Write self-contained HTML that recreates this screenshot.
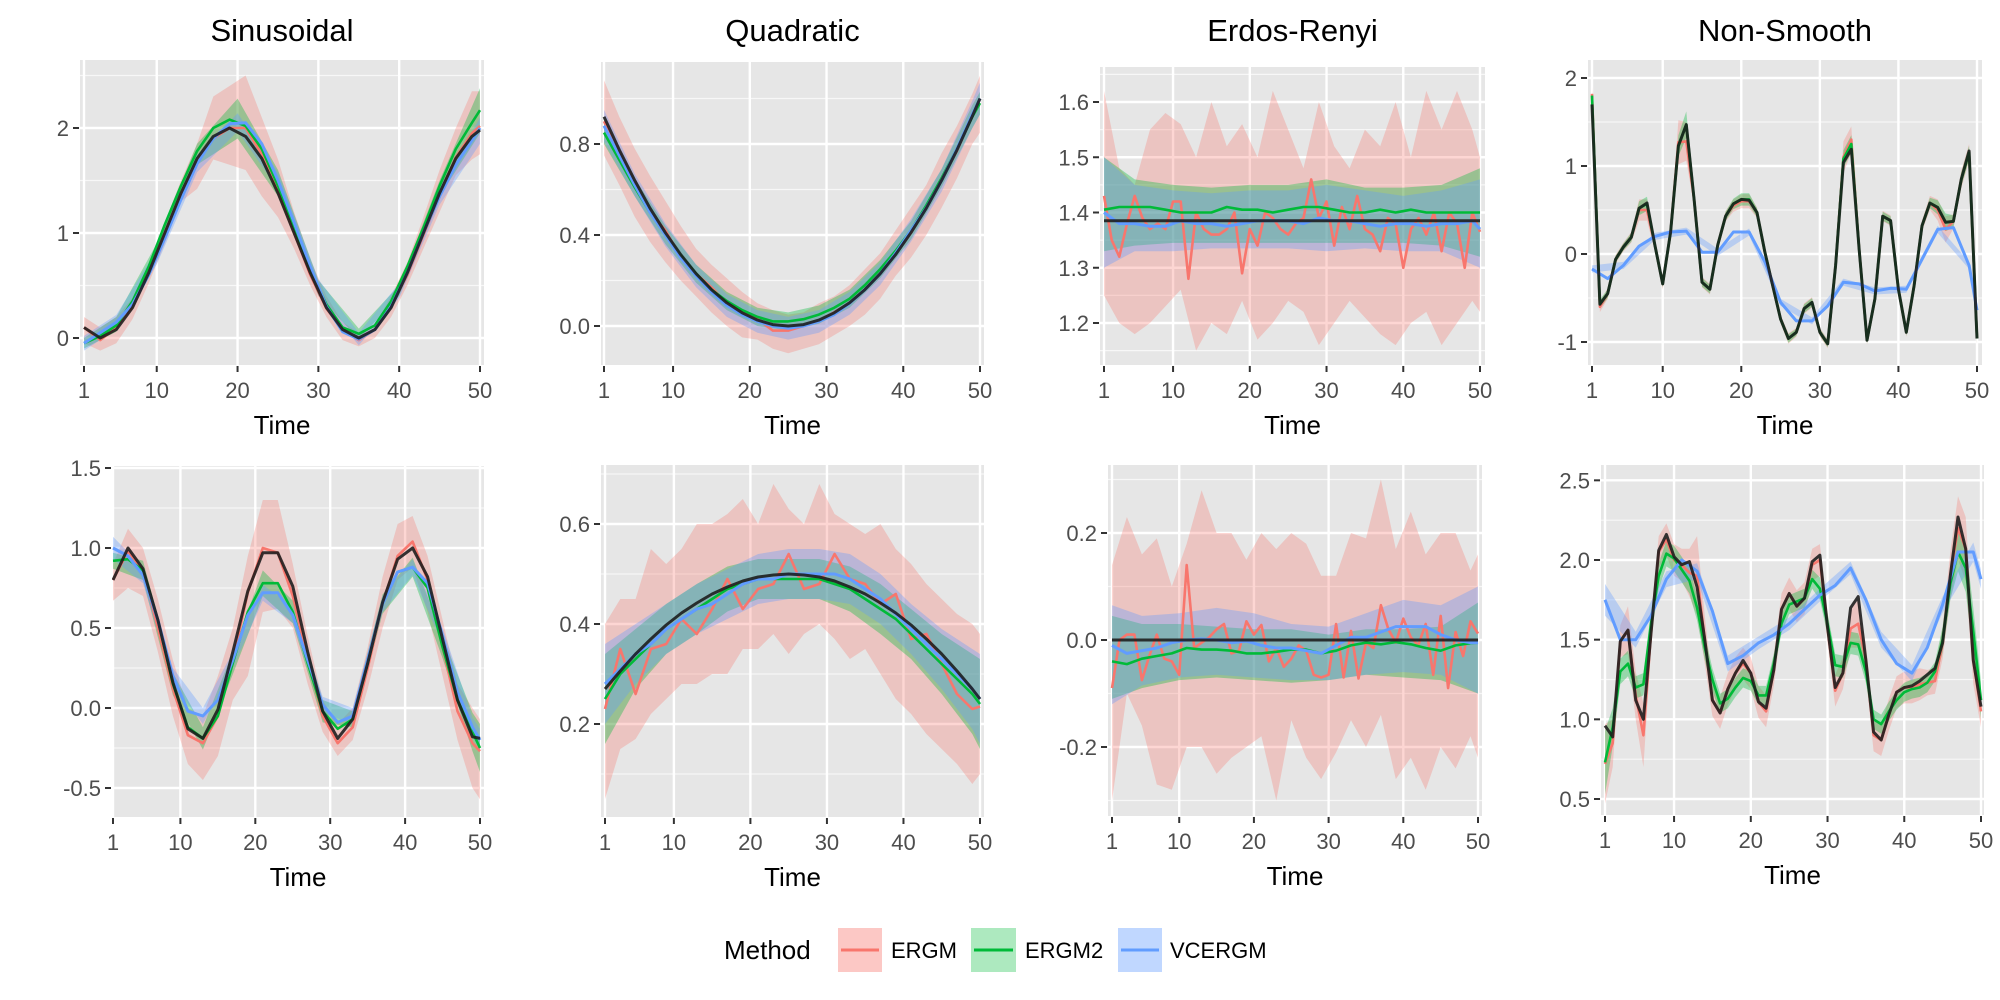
<!DOCTYPE html>
<html><head><meta charset="utf-8"><style>
html,body{margin:0;padding:0;background:#fff;}
svg{display:block;font-family:"Liberation Sans",Arial,sans-serif;}
</style></head><body>
<svg id="chart" width="2000" height="1000" viewBox="0 0 2000 1000" xmlns="http://www.w3.org/2000/svg">
<defs id="defs"></defs>
<g id="legend">
  <text x="724" y="959" font-size="26" fill="#000">Method</text>
  <g>
    <rect x="838" y="928" width="44" height="44" fill="#F8766D" fill-opacity="0.4"/>
    <line x1="841" y1="950" x2="879" y2="950" stroke="#F8766D" stroke-width="3"/>
    <text x="891" y="958" font-size="22">ERGM</text>
  </g>
  <g>
    <rect x="971" y="928" width="45" height="44" fill="#00BA38" fill-opacity="0.32"/>
    <line x1="974" y1="950" x2="1013" y2="950" stroke="#00BA38" stroke-width="3"/>
    <text x="1025" y="958" font-size="22">ERGM2</text>
  </g>
  <g>
    <rect x="1118" y="928" width="44" height="44" fill="#619CFF" fill-opacity="0.4"/>
    <line x1="1121" y1="950" x2="1159" y2="950" stroke="#619CFF" stroke-width="3"/>
    <text x="1170" y="958" font-size="22">VCERGM</text>
  </g>
</g>
</svg>
<script>
// ---------- time grids ----------
const T50 = Array.from({length:50},(_,i)=>i+1);
const T26 = [1,3,5,7,9,11,13,15,17,19,21,23,25,27,29,31,33,35,37,39,41,43,45,47,49,50];
const TB11 = [1,5,10,15,20,25,30,35,40,45,50];
const TB14 = [1,5,9,13,17,21,25,29,33,37,41,45,49,50];
const TEND = [1,50];
const xTicks = [1,10,20,30,40,50];

// ---------- Sinusoidal ----------
const sinTruth = [0.1,0,0.08,0.29,0.62,1.0,1.38,1.71,1.92,2.0,1.92,1.71,1.38,1.0,0.62,0.29,0.08,0,0.08,0.29,0.62,1.0,1.38,1.71,1.92,1.98];
const sinErgm = [0.1,-0.02,0.1,0.3,0.62,1.0,1.35,1.68,1.9,2.0,2.0,1.75,1.4,1.0,0.6,0.28,0.08,-0.02,0.08,0.3,0.6,0.98,1.35,1.72,1.95,2.02];
const sinErgmLo = [-0.05,-0.12,-0.05,0.18,0.52,0.9,1.3,1.42,1.7,1.65,1.6,1.35,1.15,0.85,0.5,0.2,-0.02,-0.08,0,0.2,0.5,0.85,1.2,1.55,1.7,1.75];
const sinErgmHi = [0.2,0.1,0.2,0.38,0.7,1.1,1.5,1.85,2.3,2.4,2.5,2.1,1.7,1.2,0.75,0.4,0.15,0.05,0.12,0.4,0.72,1.15,1.6,2.0,2.35,2.35];
const sinErgm2 = [-0.05,0.02,0.12,0.35,0.68,1.08,1.45,1.78,2.0,2.08,2.02,1.8,1.45,1.05,0.65,0.32,0.1,0.04,0.12,0.35,0.68,1.05,1.45,1.8,2.05,2.17];
const sinErgm2Lo = [-0.1,0.06,0.75,1.65,1.9,1.35,0.4,-0.01,0.4,1.35,1.95];
const sinErgm2Hi = [0,0.2,0.9,1.85,2.28,1.6,0.55,0.09,0.5,1.5,2.38];
const sinVc = [-0.05,0.05,0.15,0.32,0.6,0.95,1.32,1.66,1.9,2.04,2.05,1.85,1.5,1.1,0.68,0.3,0.06,-0.01,0.08,0.3,0.62,1.0,1.35,1.65,1.88,2.0];
const sinVcLo = [-0.12,0.08,0.7,1.58,1.97,1.42,0.4,-0.07,0.38,1.27,1.85];
const sinVcHi = [0.02,0.22,0.84,1.74,2.14,1.58,0.56,0.05,0.52,1.43,2.1];

// ---------- Quadratic ----------
const quadTruth = [0.92,0.774,0.64,0.518,0.41,0.314,0.23,0.16,0.102,0.058,0.026,0.006,0,0.006,0.026,0.058,0.102,0.16,0.23,0.314,0.41,0.518,0.64,0.774,0.922,1.0];
const quadErgm = [0.9,0.76,0.63,0.5,0.42,0.3,0.23,0.17,0.1,0.06,0.03,-0.02,-0.02,0,0.02,0.06,0.1,0.16,0.23,0.32,0.41,0.52,0.65,0.77,0.93,1.0];
const quadErgmLo = [0.75,0.62,0.48,0.37,0.28,0.2,0.13,0.06,0,-0.05,-0.06,-0.1,-0.12,-0.1,-0.08,-0.04,0,0.05,0.12,0.22,0.3,0.4,0.52,0.65,0.8,0.85];
const quadErgmHi = [1.08,0.92,0.78,0.66,0.55,0.44,0.34,0.27,0.21,0.15,0.1,0.07,0.05,0.06,0.1,0.13,0.18,0.25,0.32,0.42,0.52,0.62,0.76,0.88,1.02,1.1];
const quadErgm2 = [0.85,0.73,0.61,0.5,0.4,0.31,0.23,0.16,0.11,0.07,0.04,0.02,0.02,0.03,0.05,0.08,0.12,0.18,0.25,0.33,0.42,0.53,0.65,0.78,0.92,0.98];
const quadErgm2W = [0.05,0.04,0.04,0.04,0.04,0.04,0.04,0.04,0.04,0.04,0.04,0.04,0.05,0.05];
const quadVc = [0.88,0.75,0.62,0.5,0.4,0.3,0.22,0.15,0.09,0.05,0.02,0,-0.01,0,0.02,0.05,0.1,0.16,0.23,0.32,0.42,0.52,0.64,0.78,0.93,1.0];
const quadVcW = [0.07,0.05,0.05,0.05,0.05,0.05,0.05,0.05,0.05,0.05,0.05,0.05,0.06,0.07];

// ---------- Erdos-Renyi ----------
const erTruth = [1.385,1.385];
const erErgm = [1.43,1.35,1.32,1.38,1.43,1.39,1.37,1.38,1.37,1.42,1.42,1.28,1.4,1.37,1.36,1.36,1.37,1.4,1.29,1.37,1.34,1.4,1.39,1.37,1.36,1.38,1.39,1.46,1.39,1.42,1.34,1.41,1.37,1.43,1.37,1.36,1.33,1.39,1.38,1.3,1.37,1.39,1.36,1.4,1.33,1.4,1.38,1.3,1.4,1.365];
const erErgmLo = [1.25,1.2,1.18,1.2,1.23,1.26,1.15,1.2,1.18,1.24,1.17,1.2,1.24,1.22,1.16,1.2,1.24,1.21,1.18,1.16,1.2,1.22,1.16,1.2,1.24,1.22];
const erErgmHi = [1.62,1.48,1.45,1.55,1.58,1.56,1.5,1.6,1.52,1.56,1.5,1.62,1.55,1.48,1.6,1.52,1.48,1.55,1.52,1.6,1.5,1.62,1.55,1.62,1.55,1.5];
const erErgm2 = [1.405,1.41,1.41,1.41,1.405,1.4,1.4,1.4,1.41,1.405,1.405,1.4,1.405,1.41,1.41,1.405,1.4,1.4,1.405,1.4,1.405,1.4,1.4,1.4,1.4,1.4];
const erErgm2Lo = [1.33,1.34,1.345,1.345,1.345,1.345,1.345,1.345,1.345,1.34,1.32];
const erErgm2Hi = [1.5,1.46,1.45,1.445,1.45,1.45,1.46,1.445,1.445,1.45,1.48];
const erVc = [1.4,1.38,1.38,1.375,1.375,1.385,1.38,1.38,1.375,1.38,1.385,1.385,1.385,1.38,1.39,1.385,1.385,1.38,1.375,1.38,1.38,1.375,1.38,1.38,1.385,1.37];
const erVcLo = [1.3,1.33,1.33,1.335,1.335,1.335,1.33,1.335,1.33,1.33,1.3];
const erVcHi = [1.5,1.45,1.44,1.435,1.44,1.44,1.45,1.44,1.43,1.44,1.46];

// ---------- Non-Smooth ----------
const nsTruth = [1.7,-0.57,-0.45,-0.06,0.08,0.19,0.52,0.58,0.1,-0.34,0.25,1.23,1.47,0.62,-0.32,-0.4,0.1,0.43,0.57,0.62,0.61,0.47,0.02,-0.36,-0.74,-0.96,-0.89,-0.62,-0.55,-0.89,-1.02,-0.13,1.04,1.19,0.06,-0.98,-0.51,0.43,0.38,-0.4,-0.89,-0.36,0.32,0.58,0.53,0.36,0.37,0.85,1.17,-0.96];
const nsErgm = [1.82,-0.6,-0.45,-0.06,0.08,0.19,0.5,0.5,0.1,-0.34,0.25,1.27,1.28,0.62,-0.32,-0.4,0.1,0.43,0.55,0.6,0.6,0.47,0.02,-0.36,-0.74,-0.96,-0.89,-0.62,-0.55,-0.89,-1.02,-0.13,1.1,1.3,0.06,-0.98,-0.51,0.43,0.38,-0.4,-0.89,-0.36,0.32,0.58,0.5,0.28,0.37,0.85,1.15,-0.96];
const nsErgmW = [0.08,0.06,0.06,0.05,0.05,0.06,0.12,0.12,0.07,0.06,0.08,0.25,0.22,0.07,0.06,0.06,0.06,0.06,0.07,0.08,0.08,0.06,0.05,0.05,0.05,0.06,0.05,0.06,0.06,0.05,0.05,0.06,0.18,0.15,0.06,0.05,0.05,0.06,0.06,0.05,0.05,0.05,0.06,0.08,0.12,0.15,0.08,0.1,0.1,0.06];
const nsErgm2 = [1.8,-0.57,-0.45,-0.06,0.08,0.19,0.52,0.57,0.1,-0.34,0.25,1.23,1.47,0.62,-0.32,-0.4,0.1,0.43,0.57,0.62,0.62,0.47,0.02,-0.36,-0.74,-0.96,-0.89,-0.62,-0.55,-0.89,-1.02,-0.13,1.08,1.25,0.06,-0.98,-0.51,0.43,0.38,-0.4,-0.89,-0.36,0.32,0.58,0.53,0.36,0.37,0.85,1.15,-0.96];
const nsErgm2W = [0.05,0.05,0.05,0.04,0.04,0.05,0.08,0.08,0.05,0.04,0.06,0.12,0.15,0.05,0.05,0.05,0.04,0.05,0.06,0.07,0.07,0.05,0.04,0.04,0.04,0.05,0.04,0.05,0.05,0.04,0.04,0.05,0.1,0.1,0.05,0.04,0.04,0.05,0.05,0.04,0.04,0.04,0.05,0.06,0.08,0.1,0.07,0.08,0.08,0.05];
const nsVc = [-0.17,-0.28,-0.13,0.09,0.2,0.25,0.26,0.02,0.02,0.25,0.25,-0.09,-0.55,-0.76,-0.76,-0.59,-0.32,-0.34,-0.42,-0.39,-0.4,-0.06,0.28,0.3,-0.13,-0.64];
const nsVcW = [0.04,0.04,0.04,0.04,0.04,0.04,0.04,0.04,0.04,0.04,0.04,0.04,0.04,0.04];

// ---------- Row 2: Sinusoidal ----------
const sin2Truth = [0.8,1.0,0.87,0.55,0.16,-0.13,-0.19,-0.01,0.35,0.73,0.97,0.97,0.76,0.35,-0.02,-0.19,-0.07,0.28,0.66,0.93,1.0,0.82,0.43,0.05,-0.18,-0.19];
const sin2Ergm = [0.8,0.98,0.86,0.5,0.12,-0.17,-0.22,-0.05,0.3,0.72,1.0,0.97,0.7,0.3,-0.05,-0.22,-0.12,0.25,0.65,0.95,1.04,0.8,0.38,-0.02,-0.22,-0.27];
const sin2ErgmLo = [0.67,0.75,0.7,0.35,-0.05,-0.35,-0.45,-0.3,0.05,0.2,0.6,0.62,0.5,0.15,-0.15,-0.3,-0.2,0.12,0.5,0.8,0.88,0.6,0.2,-0.2,-0.5,-0.57];
const sin2ErgmHi = [0.9,1.12,1.0,0.68,0.3,0.0,-0.05,0.2,0.5,0.95,1.3,1.3,0.9,0.45,0.05,-0.1,0.0,0.38,0.82,1.15,1.2,0.95,0.55,0.15,0.0,-0.07];
const sin2Ergm2 = [0.92,0.93,0.86,0.55,0.15,-0.12,-0.19,-0.05,0.28,0.6,0.78,0.78,0.6,0.28,-0.02,-0.13,-0.07,0.28,0.65,0.85,0.88,0.75,0.38,0.05,-0.15,-0.25];
const sin2Ergm2W = [0.05,0.06,0.07,0.07,0.07,0.08,0.07,0.07,0.05,0.06,0.06,0.07,0.12,0.15];
const sin2Vc = [1.0,0.95,0.83,0.55,0.2,-0.02,-0.05,0.05,0.3,0.58,0.72,0.72,0.58,0.3,0.02,-0.09,-0.05,0.3,0.65,0.85,0.88,0.78,0.45,0.1,-0.12,-0.2];
const sin2VcW = [0.07,0.05,0.05,0.05,0.05,0.05,0.05,0.05,0.05,0.05,0.05,0.05,0.06,0.07];

// ---------- Row 2: Quadratic ----------
const quad2Truth = [0.27,0.306,0.34,0.37,0.398,0.422,0.442,0.46,0.474,0.486,0.494,0.498,0.5,0.498,0.494,0.486,0.474,0.46,0.442,0.422,0.398,0.37,0.34,0.306,0.27,0.25];
const quad2Ergm = [0.23,0.35,0.26,0.35,0.36,0.41,0.38,0.43,0.49,0.43,0.47,0.48,0.54,0.47,0.48,0.54,0.49,0.48,0.44,0.46,0.37,0.38,0.32,0.26,0.23,0.235];
const quad2ErgmLo = [0.05,0.15,0.17,0.22,0.25,0.28,0.28,0.3,0.3,0.35,0.35,0.38,0.34,0.38,0.4,0.37,0.33,0.35,0.3,0.25,0.22,0.18,0.15,0.12,0.08,0.1];
const quad2ErgmHi = [0.4,0.45,0.45,0.55,0.52,0.55,0.6,0.6,0.62,0.65,0.6,0.68,0.63,0.6,0.68,0.62,0.6,0.58,0.6,0.55,0.52,0.48,0.45,0.42,0.4,0.38];
const quad2Ergm2 = [0.25,0.3,0.33,0.36,0.39,0.41,0.43,0.45,0.47,0.48,0.49,0.49,0.49,0.49,0.49,0.48,0.47,0.45,0.43,0.41,0.38,0.35,0.32,0.29,0.26,0.24];
const quad2Ergm2W = [0.09,0.06,0.05,0.05,0.045,0.04,0.04,0.04,0.045,0.05,0.05,0.06,0.08,0.09];
const quad2Vc = [0.28,0.31,0.34,0.36,0.39,0.41,0.43,0.44,0.46,0.48,0.49,0.49,0.5,0.5,0.5,0.5,0.49,0.47,0.45,0.42,0.39,0.36,0.33,0.3,0.27,0.25];
const quad2VcW = [0.08,0.06,0.05,0.05,0.05,0.05,0.05,0.05,0.05,0.05,0.05,0.06,0.08,0.09];

// ---------- Row 2: Erdos-Renyi ----------
const er2Truth = [0,0];
const er2Ergm = [-0.09,0,0.01,0.01,-0.075,-0.03,0.01,-0.035,-0.04,-0.065,0.14,-0.015,-0.005,0.005,0.02,0.03,-0.025,-0.02,0.035,0.01,0.028,-0.04,-0.015,-0.05,-0.035,-0.01,-0.02,-0.065,-0.07,-0.065,0.03,-0.07,0.017,-0.072,-0.005,-0.015,0.065,0.02,-0.005,0.04,0.005,-0.01,0.03,-0.065,0.045,-0.09,0.015,-0.03,0.035,0.012];
const er2ErgmLo = [-0.3,-0.1,-0.16,-0.27,-0.28,-0.2,-0.2,-0.25,-0.22,-0.2,-0.18,-0.3,-0.15,-0.22,-0.26,-0.21,-0.15,-0.2,-0.14,-0.26,-0.22,-0.28,-0.2,-0.24,-0.18,-0.22];
const er2ErgmHi = [0.14,0.23,0.16,0.19,0.1,0.18,0.28,0.2,0.2,0.15,0.2,0.17,0.2,0.18,0.12,0.12,0.2,0.19,0.3,0.17,0.24,0.16,0.2,0.2,0.13,0.16];
const er2Ergm2 = [-0.04,-0.045,-0.035,-0.03,-0.025,-0.015,-0.018,-0.018,-0.02,-0.025,-0.025,-0.022,-0.018,-0.018,-0.025,-0.02,-0.01,-0.005,-0.008,-0.004,-0.008,-0.015,-0.02,-0.01,-0.006,-0.005];
const er2Ergm2Lo = [-0.11,-0.09,-0.075,-0.07,-0.075,-0.08,-0.075,-0.065,-0.07,-0.075,-0.1];
const er2Ergm2Hi = [0.045,0.03,0.03,0.025,0.02,0.02,0.01,0.02,0.02,0.025,0.07];
const er2Vc = [-0.01,-0.025,-0.02,-0.015,-0.005,0,0.002,0,-0.005,-0.002,-0.01,-0.015,-0.015,-0.02,-0.025,-0.01,0.005,0.005,0.015,0.025,0.025,0.025,0.01,0,-0.005,-0.005];
const er2VcLo = [-0.12,-0.085,-0.07,-0.065,-0.07,-0.075,-0.075,-0.065,-0.06,-0.065,-0.1];
const er2VcHi = [0.065,0.045,0.05,0.06,0.05,0.03,0.025,0.05,0.075,0.065,0.1];

// ---------- Row 2: Non-Smooth ----------
const ns2Truth = [0.96,0.89,1.49,1.56,1.12,1.0,1.54,2.06,2.16,2.02,1.97,1.99,1.83,1.5,1.12,1.04,1.19,1.29,1.37,1.29,1.11,1.07,1.31,1.69,1.79,1.71,1.76,1.99,2.03,1.58,1.2,1.29,1.7,1.77,1.37,0.92,0.87,1.03,1.17,1.2,1.21,1.24,1.28,1.32,1.48,1.9,2.27,2.07,1.37,1.08];
const ns2Ergm = [0.72,0.85,1.49,1.56,1.15,0.9,1.54,2.05,2.13,2.0,1.97,1.92,1.9,1.5,1.12,1.04,1.19,1.29,1.35,1.29,1.11,1.05,1.31,1.69,1.79,1.71,1.76,1.97,2.0,1.58,1.18,1.29,1.57,1.6,1.37,0.9,0.87,1.03,1.17,1.2,1.2,1.22,1.23,1.24,1.48,1.9,2.2,2.07,1.37,1.05];
const ns2ErgmW = [0.25,0.15,0.1,0.15,0.15,0.2,0.1,0.1,0.1,0.1,0.1,0.15,0.25,0.15,0.1,0.1,0.1,0.1,0.1,0.1,0.1,0.1,0.1,0.1,0.1,0.1,0.1,0.1,0.1,0.1,0.1,0.1,0.12,0.15,0.1,0.1,0.1,0.1,0.1,0.1,0.1,0.1,0.08,0.08,0.1,0.15,0.2,0.2,0.15,0.1];
const ns2Ergm2 = [0.73,0.95,1.3,1.35,1.2,1.22,1.6,1.9,2.04,2.01,1.94,1.87,1.7,1.45,1.25,1.1,1.13,1.2,1.26,1.24,1.15,1.15,1.35,1.6,1.72,1.74,1.76,1.88,1.82,1.6,1.34,1.33,1.48,1.47,1.3,1.0,0.97,1.05,1.12,1.17,1.19,1.2,1.23,1.3,1.5,1.85,2.05,1.95,1.55,1.12];
const ns2Ergm2W = [0.2,0.12,0.08,0.08,0.07,0.07,0.08,0.08,0.08,0.08,0.08,0.08,0.08,0.08,0.07,0.06,0.06,0.06,0.06,0.06,0.06,0.06,0.06,0.06,0.06,0.06,0.06,0.06,0.07,0.07,0.07,0.07,0.07,0.07,0.07,0.06,0.06,0.06,0.06,0.06,0.06,0.06,0.06,0.06,0.08,0.1,0.12,0.15,0.15,0.12];
const ns2Vc = [1.75,1.5,1.5,1.65,1.88,2.0,1.93,1.68,1.35,1.4,1.48,1.53,1.6,1.69,1.78,1.84,1.95,1.75,1.5,1.35,1.29,1.45,1.72,2.05,2.05,1.88];
const ns2VcW = [0.1,0.05,0.05,0.05,0.05,0.04,0.04,0.04,0.04,0.05,0.05,0.05,0.06,0.06];

// ---------- tick arrays ----------
const ticksSin = [0,1,2], labelsSin = ["0","1","2"];
const ticksQuad = [0,0.4,0.8], labelsQuad = ["0.0","0.4","0.8"];
const ticksEr = [1.2,1.3,1.4,1.5,1.6], labelsEr = ["1.2","1.3","1.4","1.5","1.6"];
const ticksNs = [-1,0,1,2], labelsNs = ["-1","0","1","2"];
const ticksSin2 = [-0.5,0,0.5,1,1.5], labelsSin2 = ["-0.5","0.0","0.5","1.0","1.5"];
const ticksQuad2 = [0.2,0.4,0.6], labelsQuad2 = ["0.2","0.4","0.6"];
const ticksEr2 = [-0.2,0,0.2], labelsEr2 = ["-0.2","0.0","0.2"];
const ticksNs2 = [0.5,1,1.5,2,2.5], labelsNs2 = ["0.5","1.0","1.5","2.0","2.5"];
const xTickLabels = ["1","10","20","30","40","50"];

const RED="#F8766D", GREEN="#00BA38", BLUE="#619CFF";

// ---------- panel layout (pixel geometry only) ----------
const panels = [
 {name:"sinusoidal-top", title:"Sinusoidal", x0:80,x1:484,y0:60,y1:365, t1:84,t50:480, vA:0,pA:338,vB:2,pB:128, ticks:ticksSin, labels:labelsSin, minorStep:0.5,
  truth:[T26,sinTruth], ergm:[T26,sinErgm], ergm2:[T26,sinErgm2], vc:[T26,sinVc],
  bands:[{c:RED,t:T26,lo:sinErgmLo,hi:sinErgmHi},{c:GREEN,t:TB11,lo:sinErgm2Lo,hi:sinErgm2Hi},{c:BLUE,t:TB11,lo:sinVcLo,hi:sinVcHi}]},
 {name:"quadratic-top", title:"Quadratic", x0:601,x1:984,y0:62,y1:365, t1:604,t50:980, vA:0,pA:326,vB:0.8,pB:144, ticks:ticksQuad, labels:labelsQuad, minorStep:0.2,
  truth:[T26,quadTruth], ergm:[T26,quadErgm], ergm2:[T26,quadErgm2], vc:[T26,quadVc],
  bands:[{c:RED,t:T26,lo:quadErgmLo,hi:quadErgmHi},{c:GREEN,t:TB14,s:[T26,quadErgm2],w:quadErgm2W},{c:BLUE,t:TB14,s:[T26,quadVc],w:quadVcW}]},
 {name:"erdos-renyi-top", title:"Erdos-Renyi", x0:1100,x1:1485,y0:67,y1:365, t1:1104,t50:1480, vA:1.2,pA:323,vB:1.6,pB:102, ticks:ticksEr, labels:labelsEr, minorStep:0.05,
  truth:[TEND,erTruth], ergm:[T50,erErgm], ergm2:[T26,erErgm2], vc:[T26,erVc],
  bands:[{c:RED,t:T26,lo:erErgmLo,hi:erErgmHi},{c:GREEN,t:TB11,lo:erErgm2Lo,hi:erErgm2Hi},{c:BLUE,t:TB11,lo:erVcLo,hi:erVcHi}]},
 {name:"non-smooth-top", title:"Non-Smooth", x0:1588,x1:1982,y0:60,y1:365, t1:1592,t50:1977, vA:-1,pA:342,vB:2,pB:78, ticks:ticksNs, labels:labelsNs, minorStep:0.5,
  truth:[T50,nsTruth], ergm:[T50,nsErgm], ergm2:[T50,nsErgm2], vc:[T26,nsVc],
  bands:[{c:RED,t:T50,s:[T50,nsErgm],w:nsErgmW},{c:GREEN,t:T50,s:[T50,nsErgm2],w:nsErgm2W},{c:BLUE,t:TB14,s:[T26,nsVc],w:nsVcW}]},
 {name:"sinusoidal-bottom", x0:112,x1:484,y0:466,y1:817, t1:113,t50:480, vA:0,pA:708,vB:1,pB:548, ticks:ticksSin2, labels:labelsSin2, minorStep:0.25,
  truth:[T26,sin2Truth], ergm:[T26,sin2Ergm], ergm2:[T26,sin2Ergm2], vc:[T26,sin2Vc],
  bands:[{c:RED,t:T26,lo:sin2ErgmLo,hi:sin2ErgmHi},{c:GREEN,t:TB14,s:[T26,sin2Ergm2],w:sin2Ergm2W},{c:BLUE,t:TB14,s:[T26,sin2Vc],w:sin2VcW}]},
 {name:"quadratic-bottom", x0:601,x1:984,y0:465,y1:817, t1:605,t50:980, vA:0.2,pA:724,vB:0.6,pB:524, ticks:ticksQuad2, labels:labelsQuad2, minorStep:0.1,
  truth:[T26,quad2Truth], ergm:[T26,quad2Ergm], ergm2:[T26,quad2Ergm2], vc:[T26,quad2Vc],
  bands:[{c:RED,t:T26,lo:quad2ErgmLo,hi:quad2ErgmHi},{c:GREEN,t:TB14,s:[T26,quad2Ergm2],w:quad2Ergm2W},{c:BLUE,t:TB14,s:[T26,quad2Vc],w:quad2VcW}]},
 {name:"erdos-renyi-bottom", x0:1108,x1:1482,y0:465,y1:816, t1:1112,t50:1478, vA:-0.2,pA:747,vB:0.2,pB:533, ticks:ticksEr2, labels:labelsEr2, minorStep:0.1,
  truth:[TEND,er2Truth], ergm:[T50,er2Ergm], ergm2:[T26,er2Ergm2], vc:[T26,er2Vc],
  bands:[{c:RED,t:T26,lo:er2ErgmLo,hi:er2ErgmHi},{c:GREEN,t:TB11,lo:er2Ergm2Lo,hi:er2Ergm2Hi},{c:BLUE,t:TB11,lo:er2VcLo,hi:er2VcHi}]},
 {name:"non-smooth-bottom", x0:1601,x1:1984,y0:465,y1:815, t1:1605,t50:1981, vA:0.5,pA:799,vB:2,pB:560, ticks:ticksNs2, labels:labelsNs2, minorStep:0.25,
  truth:[T50,ns2Truth], ergm:[T50,ns2Ergm], ergm2:[T50,ns2Ergm2], vc:[T26,ns2Vc],
  bands:[{c:RED,t:T50,s:[T50,ns2Ergm],w:ns2ErgmW},{c:GREEN,t:T50,s:[T50,ns2Ergm2],w:ns2Ergm2W},{c:BLUE,t:TB14,s:[T26,ns2Vc],w:ns2VcW}]}
];

const NS="http://www.w3.org/2000/svg";
const svg=document.getElementById('chart');
const defs=document.getElementById('defs');
function mk(tag, attrs, parent){const e=document.createElementNS(NS,tag);for(const k in attrs)e.setAttribute(k,attrs[k]);(parent||svg).appendChild(e);return e;}
function valAt(s,t){return s[1][s[0].indexOf(t)];}

panels.forEach((p,pi)=>{
  const xs=t=>p.t1+(t-1)*(p.t50-p.t1)/49;
  const ys=v=>p.pA+(v-p.vA)*(p.pB-p.pA)/(p.vB-p.vA);
  const vTop=p.vA+(p.y0-p.pA)*(p.vB-p.vA)/(p.pB-p.pA);
  const vBot=p.vA+(p.y1-p.pA)*(p.vB-p.vA)/(p.pB-p.pA);
  const g=mk('g',{});
  
  
  const cp=mk('clipPath',{id:'clip'+pi},defs);
  mk('rect',{x:p.x0,y:p.y0,width:p.x1-p.x0,height:p.y1-p.y0},cp);
  const bg=mk('rect',{x:p.x0,y:p.y0,width:p.x1-p.x0,height:p.y1-p.y0,fill:'#E6E6E6'},g);
  
  
  // minor horizontal grid
  const lo=Math.min(vTop,vBot), hi=Math.max(vTop,vBot);
  for(let v=Math.ceil(lo/p.minorStep)*p.minorStep; v<=hi+1e-9; v+=p.minorStep){
    const y=ys(v);
    const ln=mk('line',{x1:p.x0,x2:p.x1,y1:y,y2:y,stroke:'#F7F7F7','stroke-width':1.2},g);
    
    
  }
  p.ticks.forEach((v,i)=>{
    const y=ys(v);
    const ln=mk('line',{x1:p.x0,x2:p.x1,y1:y,y2:y,stroke:'#FFFFFF','stroke-width':2.4},g);
    
    
    const tk=mk('line',{x1:p.x0-7,x2:p.x0-1,y1:y,y2:y,stroke:'#333','stroke-width':2},g);
    
    
    const tx=mk('text',{x:p.x0-11,y:y+8,'text-anchor':'end','font-size':22,fill:'#4D4D4D'},g);
    tx.textContent=p.labels[i];
    
    
  });
  xTicks.forEach((t,i)=>{
    const x=xs(t);
    const ln=mk('line',{x1:x,x2:x,y1:p.y0,y2:p.y1,stroke:'#FFFFFF','stroke-width':2.4},g);
    
    
    const tk=mk('line',{x1:x,x2:x,y1:p.y1+1,y2:p.y1+7,stroke:'#333','stroke-width':2},g);
    
    
    const tx=mk('text',{x:x,y:p.y1+33,'text-anchor':'middle','font-size':22,fill:'#4D4D4D'},g);
    tx.textContent=xTickLabels[i];
    
    
  });
  const data=mk('g',{'clip-path':'url(#clip'+pi+')'},g);
  
  
  const bandNames=['ergm-band','ergm2-band','vcergm-band'];
  p.bands.forEach((b,bi)=>{
    let los,his;
    if(b.w){los=b.t.map((t,i)=>valAt(b.s,t)-b.w[i]);his=b.t.map((t,i)=>valAt(b.s,t)+b.w[i]);}
    else{los=b.lo;his=b.hi;}
    let d='';
    b.t.forEach((t,i)=>{d+=(i?'L':'M')+xs(t).toFixed(1)+','+ys(his[i]).toFixed(1);});
    for(let i=b.t.length-1;i>=0;i--)d+='L'+xs(b.t[i]).toFixed(1)+','+ys(los[i]).toFixed(1);
    const pa=mk('path',{d:d+'Z',fill:b.c,'fill-opacity':bi===0?0.3:0.35,stroke:'none'},data);
    
    
  });
  const lines=[['ergm-line',p.ergm,RED,2.6,1],['ergm2-line',p.ergm2,GREEN,2.6,1],['vcergm-line',p.vc,BLUE,3,1],['truth-line',p.truth,'#1A1A1A',3,0.88]];
  lines.forEach(([nm,s,c,w,o])=>{
    const pts=s[0].map((t,i)=>xs(t).toFixed(1)+','+ys(s[1][i]).toFixed(1)).join(' ');
    const pl=mk('polyline',{points:pts,fill:'none',stroke:c,'stroke-width':w,'stroke-opacity':o,'stroke-linejoin':'round'},data);
    
    
  });
  const cx=(p.x0+p.x1)/2;
  if(p.title){
    const tt=mk('text',{x:cx,y:41,'text-anchor':'middle','font-size':31,fill:'#000'},g);
    tt.textContent=p.title;
    
    
  }
  const xt=mk('text',{x:cx,y:p.y1+69,'text-anchor':'middle','font-size':26,fill:'#000'},g);
  xt.textContent='Time';
  
  
});
</script>
</body></html>
